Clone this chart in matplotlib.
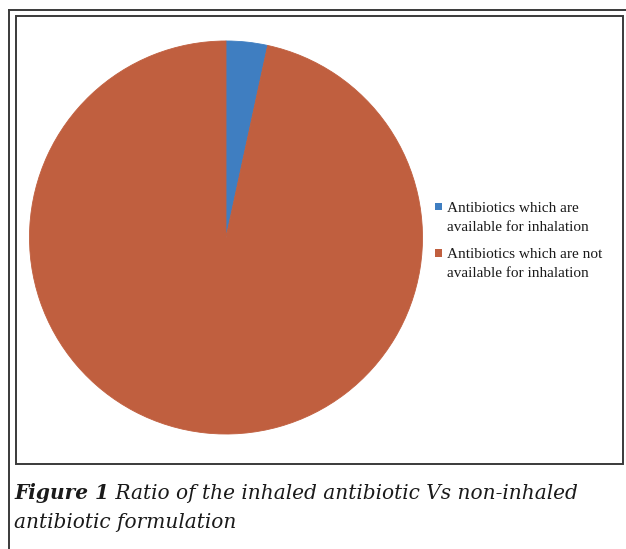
import matplotlib
matplotlib.use("Agg")
import matplotlib.pyplot as plt
from matplotlib.lines import Line2D
from matplotlib.patches import Rectangle

# Share of antibiotics by inhalation availability (percent)
categories = ["Antibiotics which are\navailable for inhalation",
              "Antibiotics which are not\navailable for inhalation"]
shares = [3.4, 96.6]
colors = ["#3f7ec1", "#c05f3f"]

caption_bold = "Figure 1"
caption_rest_1 = " Ratio of the inhaled antibiotic Vs non-inhaled"
caption_line_2 = "antibiotic formulation"

W, H = 626, 549
fig = plt.figure(figsize=(W / 100, H / 100), dpi=100)
fig.patch.set_facecolor("white")


def fx(px):
    return px / W


def fy(py):
    return 1 - py / H


# Pie axes: square box in pixels
cx, cy, r = 226, 237.5, 197.5
ax = fig.add_axes([fx(cx - r), fy(cy + r), 2 * r / W, 2 * r / H])
wedges, _ = ax.pie(shares, colors=colors, startangle=90, counterclock=False,
                   radius=1)
for w, c in zip(wedges, colors):
    w.set_edgecolor(c)
    w.set_linewidth(0.6)
ax.set_xlim(-1.005, 1.005)
ax.set_ylim(-1.005, 1.005)
ax.set_aspect("auto")
ax.axis("off")

# Legend: square key beside the first line of each two-line label
leg_font = dict(family="Liberation Serif", size=11, color="#1a1a1a")
entry_top = [212, 258]       # baseline of first line, px from top
line_step = 18.7
for label, color, base in zip(categories, colors, entry_top):
    fig.add_artist(Rectangle((fx(434.5), fy(base - 1.5)), 7 / W, 7 / H,
                             facecolor=color, edgecolor="none",
                             transform=fig.transFigure))
    for i, line in enumerate(label.split("\n")):
        fig.text(fx(447), fy(base + i * line_step), line,
                 va="baseline", ha="left", **leg_font)

# Frame lines
line_kw = dict(color="#3a3a3a", linewidth=1.4, transform=fig.transFigure)
fig.add_artist(Line2D([fx(8.5), fx(8.5)], [fy(9.5), fy(549)], **line_kw))
fig.add_artist(Line2D([fx(8.5), fx(626)], [fy(9.5), fy(9.5)], **line_kw))
fig.add_artist(Rectangle((fx(15.5), fy(463.5)), fx(623) - fx(15.5),
                         fy(16) - fy(463.5), fill=False,
                         edgecolor="#3a3a3a", linewidth=1.4,
                         transform=fig.transFigure))

# Caption
cap_font = "DejaVu Serif"
cap_size = 14.5
t1 = fig.text(fx(14), fy(499), caption_bold, family=cap_font, size=cap_size,
              style="italic", weight="bold", va="baseline", color="#1a1a1a")
fig.canvas.draw()
bb = t1.get_window_extent(renderer=fig.canvas.get_renderer())
fig.text(bb.x1 / W, fy(499), caption_rest_1, family=cap_font, size=cap_size,
         style="italic", va="baseline", color="#1a1a1a")
fig.text(fx(14), fy(528), caption_line_2, family=cap_font, size=cap_size,
         style="italic", va="baseline", color="#1a1a1a")

fig.savefig("out.png", dpi=100, facecolor="white")
